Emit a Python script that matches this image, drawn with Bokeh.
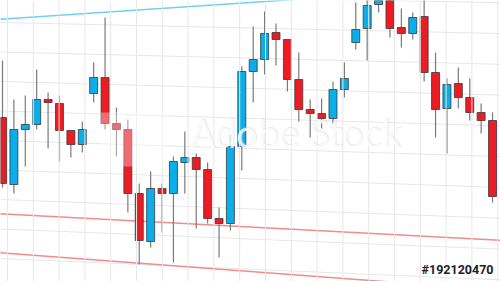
import numpy as np
from bokeh.plotting import figure
from bokeh.models import Range1d, Label, Span, BoxAnnotation
from bokeh.embed import file_html
from bokeh.resources import INLINE

# ---- data (price values) ----
opens  = [164, 97, 152, 157, 182, 178, 151, 137, 188, 204, 158, 152, 88, 40, 93, 88, 119, 124, 112, 63,
          58, 135, 210, 222, 249, 242, 202, 172, 168, 163, 192, 239, 253, 277, 291, 254, 248, 265, 209, 173,
          198, 184, 169, 161]
highs  = [221, 182, 186, 212, 189, 186, 151, 160, 219, 264, 174, 162, 98, 110, 98, 125, 150, 128, 119, 74,
          147, 215, 255, 270, 258, 242, 229, 182, 183, 200, 219, 279, 286, 301, 301, 273, 269, 286, 229, 203,
          214, 203, 178, 169]
lows   = [94, 88, 115, 152, 133, 120, 124, 129, 179, 152, 125, 69, 17, 34, 49, 19, 88, 53, 58, 24,
          51, 111, 179, 207, 216, 190, 160, 144, 153, 158, 184, 232, 221, 269, 244, 234, 242, 200, 144, 128,
          173, 161, 148, 79]
closes = [98, 152, 157, 182, 179, 151, 137, 152, 204, 158, 152, 88, 41, 93, 88, 120, 124, 112, 63, 58,
          135, 210, 222, 248, 242, 202, 172, 168, 163, 192, 203, 252, 276, 289, 253, 248, 264, 209, 172, 197,
          184, 169, 161, 85]
idx = list(range(len(opens)))

trend_x = [-0.5, 44.0]
trend_blue = [262, 296]
trend_red_upper = [68, 41]
trend_red_lower = [29, -9]

UP = "#0aaeea"
DOWN = "#ec1c24"

W, H = 500, 281
x0, x1 = -0.1755, 43.70
p = figure(width=W, height=H, output_backend="svg", toolbar_location=None,
           x_range=Range1d(x0, x1), y_range=Range1d(0, 281),
           min_border=0, outline_line_color=None, background_fill_color="white",
           border_fill_color="white")
p.axis.visible = False
p.xgrid.visible = False
p.ygrid.visible = False

def px2x(px):
    return x0 + px / W * (x1 - x0)

# background grid (perspective-like)
gcol = "#e7e7e7"
for k in range(20):
    p.add_layout(Span(location=px2x(7 + 25.8 * k), dimension="height",
                      line_color=gcol, line_width=1))
gx0, gx1 = px2x(0), px2x(W)
for k in range(-1, 10):
    yl = 281 - (22 + 29.5 * k)
    yr = 281 - (33 + 30.8 * k)
    p.line([gx0, gx1], [yl, yr], line_color=gcol, line_width=1)

# trend lines
p.line(trend_x, trend_blue, line_color="#6fcff3", line_width=1.5)
p.line(trend_x, trend_red_upper, line_color="#f38a8a", line_width=1.5)
p.line(trend_x, trend_red_lower, line_color="#f38a8a", line_width=1.5)

# candles
o = np.array(opens); c = np.array(closes)
colors = [UP if cc > oo else DOWN for oo, cc in zip(opens, closes)]
p.segment(idx, highs, idx, lows, line_color="#7a7a7a", line_width=1.2)
p.vbar(x=idx, width=0.7, top=np.maximum(o, c), bottom=np.minimum(o, c),
       fill_color=colors, line_color="#3a3a3a", line_width=0.8)

# watermark
p.add_layout(BoxAnnotation(left=px2x(100), right=px2x(163), bottom=281 - 166, top=281 - 112,
                           fill_color="white", fill_alpha=0.35, line_color=None))
p.add_layout(Label(x=190, y=281 - 154, x_units="screen", y_units="screen", text="Adobe Stock",
                   text_font="Lato", text_font_size="38px", text_color="#d8d8d8", text_alpha=0.5))
p.add_layout(Label(x=189, y=281 - 155, x_units="screen", y_units="screen", text="Adobe Stock",
                   text_font="Lato", text_font_size="38px", text_color="white", text_alpha=0.8))

p.add_layout(Label(x=493, y=281 - 276, x_units="screen", y_units="screen", text="#192120470",
                   text_align="right", text_baseline="bottom",
                   text_font="Roboto", text_font_size="12.5px", text_font_style="bold",
                   text_color="#222222"))

open("out.html", "w").write(file_html(p, INLINE))
